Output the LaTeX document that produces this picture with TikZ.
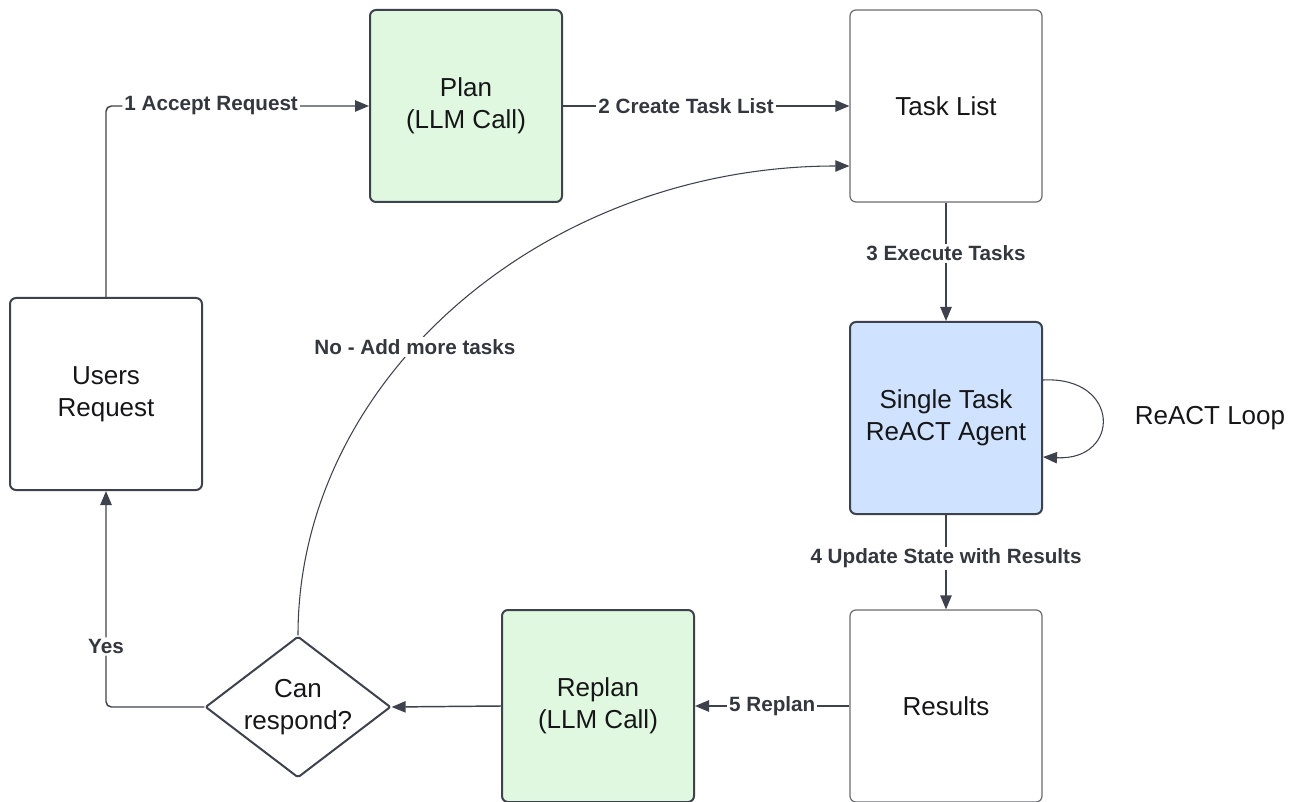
\documentclass[tikz,border=0pt]{standalone}
\usepackage{fontspec}
\setmainfont{Liberation Sans}
\usetikzlibrary{shapes.geometric,arrows.meta,calc}

\definecolor{edgegray}{RGB}{62,66,77}
\definecolor{boxgray}{RGB}{105,108,114}
\definecolor{llmgreen}{RGB}{224,248,224}
\definecolor{agentblue}{RGB}{207,226,255}
\definecolor{inkblack}{RGB}{22,22,24}
\definecolor{labelgray}{RGB}{52,55,62}

\tikzset{every picture/.style={line width=0.75pt}}
\tikzset{
  boxfont/.style={text=inkblack, font=\fontsize{19.5}{24}\selectfont},
  stepbox/.style={draw=boxgray, line width=0.9pt, rounded corners=4.5pt, minimum width=144pt, minimum height=144pt, inner sep=0pt, align=center, boxfont},
  darkbox/.style={stepbox, draw=edgegray, line width=1.5pt},
  llmbox/.style={darkbox, fill=llmgreen},
  agentbox/.style={darkbox, fill=agentblue},
  decision/.style={diamond, draw=edgegray, line width=1.5pt, rounded corners=1.5pt, minimum width=139pt, minimum height=106pt, inner sep=0pt},
  conn/.style={draw=edgegray, line width=1.1pt, -{Triangle[length=10.5pt,width=8.5pt]}},
  thinconn/.style={conn, line width=0.8pt},
  steplabel/.style={fill=white, inner sep=1.5pt, text=labelgray, font=\bfseries\fontsize{15.5}{18}\selectfont},
}

\begin{document}
\begin{tikzpicture}[x=0.75pt,y=0.75pt,yscale=-1,xscale=1]
\useasboundingbox (0,0) rectangle (1296,802);

% Boxes
\node [darkbox] (users) at (106,394) {Users\\Request};
\node [llmbox] (plan) at (466,106) {Plan\\(LLM Call)};
\node [stepbox] (tasks) at (946,106) {Task List};
\node [agentbox] (agent) at (946,418) {Single Task\\ReACT Agent};
\node [stepbox] (results) at (946,706) {Results};
\node [llmbox] (replan) at (598,706) {Replan\\(LLM Call)};
% Decision
\node [decision, label={[align=center, boxfont]center:Can\\respond?}] (canrespond) at (298,707) {};
% Text Node
\node [boxfont] (looplabel) at (1210,418) {ReACT Loop};

% Connectors
\draw [conn, rounded corners=4pt] (users.north) |- node [steplabel, pos=0.7] {1 Accept Request} (plan.west);
\draw [conn] (plan.east) -- node [steplabel, pos=0.43] {2 Create Task List} (tasks.west);
\draw [conn] (tasks.south) -- node [steplabel, pos=0.43] {3 Execute Tasks} (agent.north);
\draw [conn] (agent.south) -- node [steplabel, pos=0.46] {4 Update State with Results} (results.north);
\draw [conn] (results.west) -- node [steplabel, pos=0.5] {5 Replan} (replan.east);
\draw [conn] (replan.west) -- (canrespond.east);
\draw [conn, rounded corners=4pt] (canrespond.west) -| node [steplabel, pos=0.64] {Yes} (users.south);
%loop back to the task list
\draw [thinconn] (canrespond.north) .. controls (298,377) and (546,166) .. node [steplabel, pos=0.42] {No - Add more tasks} ($(tasks.west)+(0,60)$);
%ReACT loop
\draw [thinconn] ($(agent.east)+(0,-38)$) .. controls (1121,376) and (1121,461) .. ($(agent.east)+(0,39)$);

\end{tikzpicture}
\end{document}
